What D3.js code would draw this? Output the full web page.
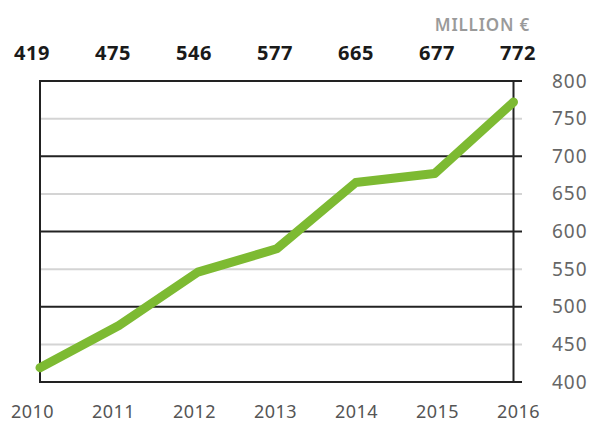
<!DOCTYPE html>
<html lang="en">
<head>
  <meta charset="utf-8" />
  <title>Million euro line</title>
  <script src="https://cdn.jsdelivr.net/npm/d3@7"></script>
  <style>
    body { margin: 0; background: white; }
    text { font-family: "Noto Sans", sans-serif; }
  </style>
</head>
<body>
<script>
var years = ["2010", "2011", "2012", "2013", "2014", "2015", "2016"];
var values = [419, 475, 546, 577, 665, 677, 772];
var yTicks = [400, 450, 500, 550, 600, 650, 700, 750, 800];

var w = 593, h = 423;
var plot = {left: 40, right: 513.5, top: 81, bottom: 382, gridEnd: 522};

var svg = d3.select("body").append("svg")
  .attr("width", w)
  .attr("height", h);

// data positions and label positions are slightly offset
var xScale = d3.scalePoint().domain(years).range([plot.left, plot.right]);
var xLabel = d3.scalePoint().domain(years).range([32, 518]);
var yScale = d3.scaleLinear().domain([400, 800]).range([plot.bottom, plot.top]);

// grid lines
svg.selectAll("line.grid")
  .data(yTicks)
  .enter().append("line")
  .attr("class", "grid")
  .attr("x1", plot.left)
  .attr("x2", plot.gridEnd)
  .attr("y1", function(d) { return yScale(d); })
  .attr("y2", function(d) { return yScale(d); })
  .attr("stroke", function(d) { return d % 100 === 0 ? "#222" : "#d4d4d4"; })
  .attr("stroke-width", 2);

// vertical frame lines
svg.selectAll("line.vert")
  .data([years[0], years[years.length - 1]])
  .enter().append("line")
  .attr("class", "vert")
  .attr("x1", function(d) { return xScale(d); })
  .attr("x2", function(d) { return xScale(d); })
  .attr("y1", yScale(800) - 1)
  .attr("y2", yScale(400) + 1)
  .attr("stroke", "#222")
  .attr("stroke-width", 2);

// right axis labels
var yAxis = d3.axisRight(yScale).tickValues(yTicks).tickSize(0).tickPadding(0);
var gy = svg.append("g")
  .attr("transform", "translate(552,0)")
  .call(yAxis);
gy.select(".domain").remove();
gy.selectAll("text")
  .attr("fill", "#666")
  .style("font-size", "19px")
  .style("letter-spacing", "1px")
  .style("font-family", "'Noto Sans', sans-serif");

// bottom year labels
var xAxis = d3.axisBottom(xLabel).tickSize(0).tickPadding(0);
var gx = svg.append("g")
  .attr("transform", "translate(0,405)")
  .call(xAxis);
gx.select(".domain").remove();
gx.selectAll("text")
  .attr("fill", "#555")
  .style("font-size", "18px")
  .style("letter-spacing", "0.5px")
  .style("font-family", "'Noto Sans', sans-serif");

// line
var line = d3.line()
  .x(function(d, i) { return xScale(years[i]); })
  .y(function(d) { return yScale(d); });

svg.append("path")
  .datum(values)
  .attr("d", line)
  .attr("fill", "none")
  .attr("stroke", "#7dba32")
  .attr("stroke-width", 9)
  .attr("stroke-linecap", "round")
  .attr("stroke-linejoin", "round");

// top value labels
svg.selectAll("text.val")
  .data(values)
  .enter().append("text")
  .attr("class", "val")
  .attr("x", function(d, i) { return xLabel(years[i]); })
  .attr("y", 60)
  .attr("text-anchor", "middle")
  .attr("fill", "#1a1a1a")
  .style("font-size", "20px")
  .style("font-weight", "700")
  .style("letter-spacing", "0.5px")
  .text(function(d) { return d; });

// unit
svg.append("text")
  .attr("x", 530)
  .attr("y", 31)
  .attr("text-anchor", "end")
  .attr("fill", "#9a9a9a")
  .style("font-size", "17px")
  .style("font-weight", "600")
  .style("letter-spacing", "0.8px")
  .text("MILLION €");
</script>
</body>
</html>
